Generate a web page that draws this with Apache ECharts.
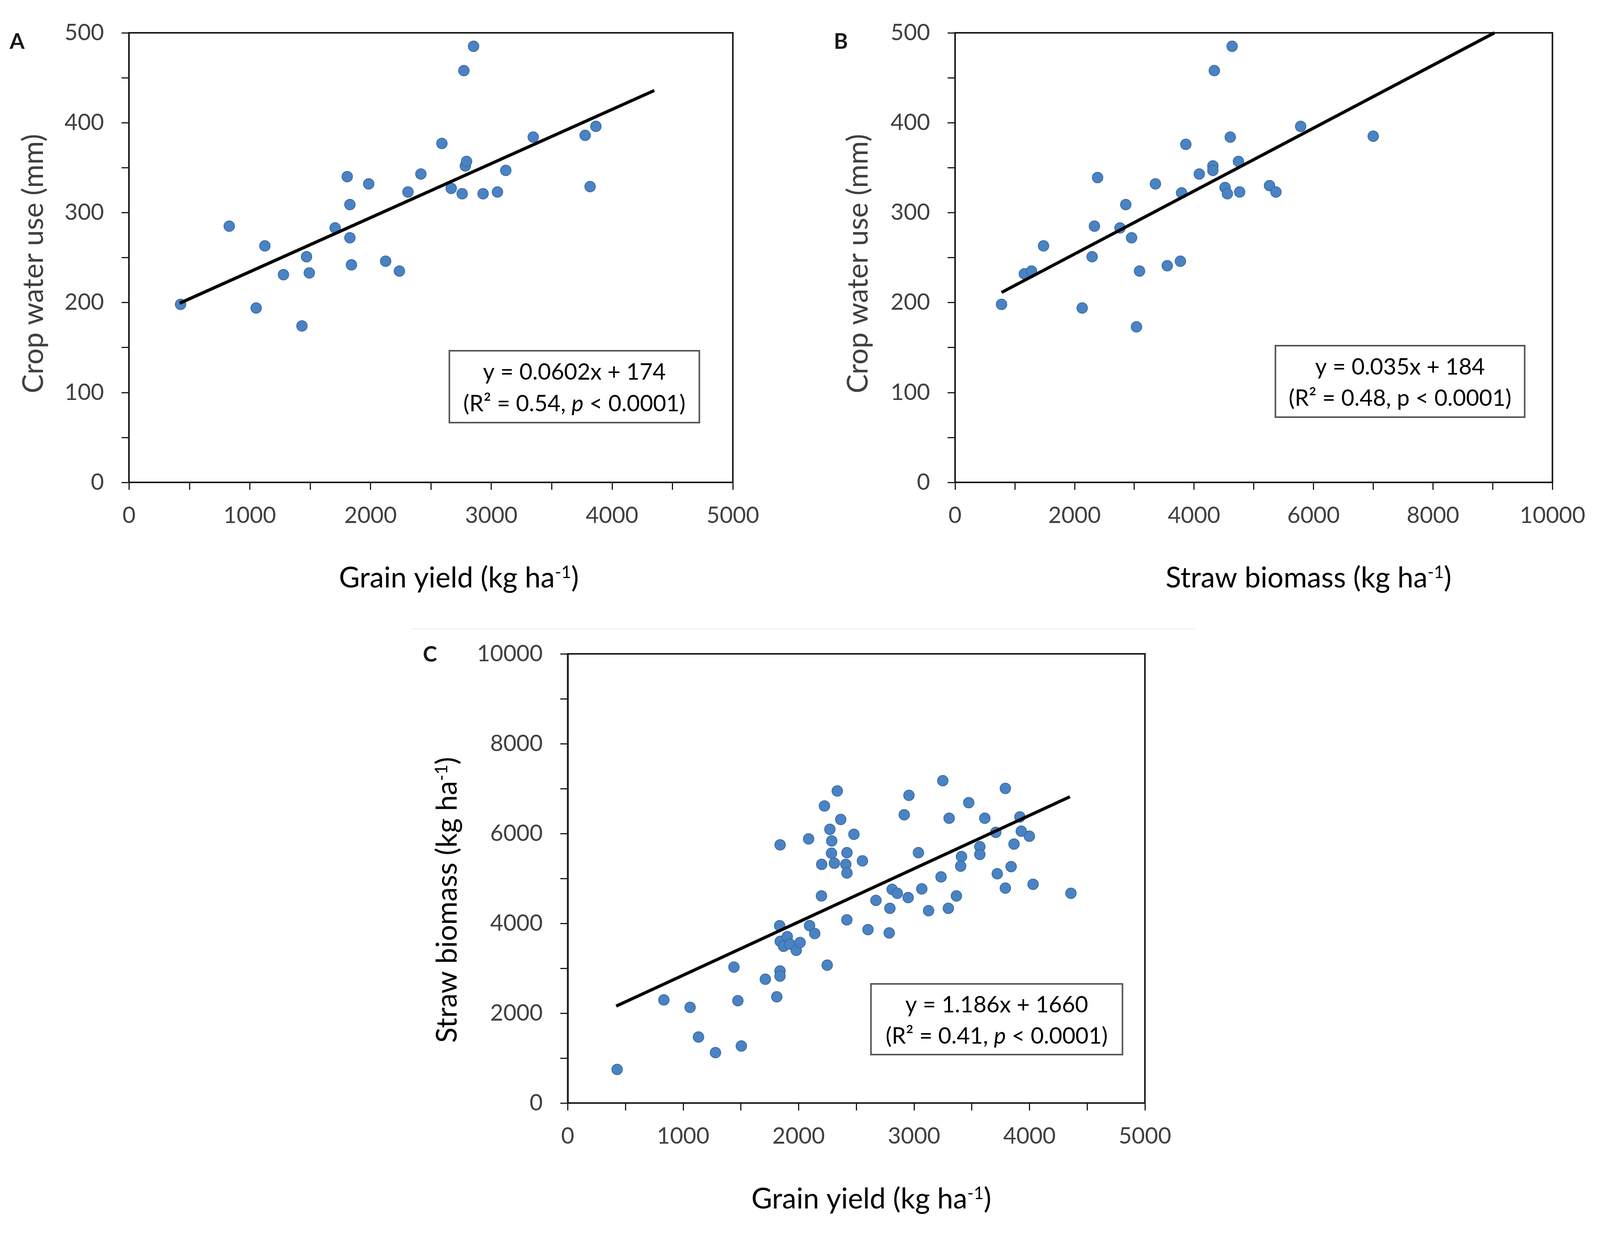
<!DOCTYPE html>
<html>
<head>
<meta charset="utf-8">
<script src="https://cdn.jsdelivr.net/npm/echarts@6/dist/echarts.min.js"></script>
<style>
  html, body { margin: 0; padding: 0; background: #fff; overflow: hidden; }
  #main { width: 100vw; height: 100vh; }
</style>
</head>
<body>
<div id="main"></div>
<script>
// panel A: grain yield vs crop water use
var grainA = [427, 830, 1125, 1053, 1279, 1470, 1493, 1432, 1707, 1807, 1829, 1829, 1842, 1985, 2125, 2239,
  2310, 2417, 2591, 2668, 2759, 2773, 2785, 2795, 2853, 2932, 3051, 3120, 3347, 3777, 3866, 3818];
var waterA = [198, 285, 263, 194, 231, 251, 233, 174, 283, 340, 309, 272, 242, 332, 246, 235,
  323, 343, 377, 327, 321, 458, 352, 357, 485, 321, 323, 347, 384, 386, 396, 329];
var fitA = [0.0602, 174];
var fitRangeA = [420, 4350];

// panel B: straw biomass vs crop water use
var strawB = [778, 1160, 1280, 1481, 2128, 2294, 2333, 2386, 2761, 2858, 2955, 3088, 3037, 3354, 3552, 3772,
  3792, 3863, 4088, 4316, 4316, 4340, 4520, 4559, 4607, 4638, 4744, 4764, 5264, 5371, 5785, 7000];
var waterB = [198, 232, 235, 263, 194, 251, 285, 339, 283, 309, 272, 235, 173, 332, 241, 246,
  322, 376, 343, 352, 347, 458, 328, 321, 384, 485, 357, 323, 330, 323, 396, 385];
var fitB = [0.035, 184];
var fitRangeB = [778, 9030];

// panel C: grain yield vs straw biomass
var grainC = [428, 833, 1060, 1133, 1280, 1504, 1440, 1474, 1712, 1811, 1839, 1839, 1840, 1836, 1841, 1870,
  1902, 1924, 1980, 2013, 2095, 2140, 2087, 2198, 2224, 2248, 2335, 2365, 2271, 2287, 2285, 2200,
  2310, 2409, 2419, 2419, 2479, 2553, 2418, 2601, 2670, 2956, 3249, 2915, 3474, 3791, 3304, 3613,
  3917, 3929, 3999, 3866, 3708, 3570, 3570, 3038, 3411, 3404, 3234, 3067, 3367, 3297, 3126, 2791,
  2810, 2855, 2949, 2785, 3721, 3841, 3791, 4031, 4359];
var strawC = [748, 2296, 2130, 1470, 1122, 1270, 3026, 2278, 2757, 2365, 2940, 2826, 5748, 3948, 3600, 3490,
  3704, 3540, 3400, 3574, 3950, 3774, 5880, 4611, 6612, 3069, 6947, 6313, 6093, 5835, 5560, 5313,
  5339, 5313, 5122, 5574, 5983, 5391, 4078, 3861, 4510, 6849, 7177, 6417, 6687, 7004, 6341, 6341,
  6370, 6052, 5939, 5765, 6026, 5707, 5534, 5574, 5487, 5274, 5035, 4767, 4611, 4335, 4283, 4335,
  4756, 4669, 4574, 3787, 5104, 5263, 4784, 4870, 4669];
var fitC = [1.186, 1660];
var fitRangeC = [420, 4350];

var FONT = 'Lato, "Open Sans", sans-serif';
var TXT = '#404040';

var dom = document.getElementById('main');
// layout is written for a 4205 x 3167 page and scaled to the real viewport
var SX = dom.clientWidth / 4205, SY = dom.clientHeight / 3167, S = Math.min(SX, SY);
function X(v) { return v * SX; }
function Y(v) { return v * SY; }
function F(v) { return Math.round(v * S); }

function pairs(xs, ys) {
  return xs.map(function (x, i) { return [x, ys[i]]; });
}
function fitLine(fit, range) {
  return range.map(function (x) { return [x, fit[0] * x + fit[1]]; });
}
function plainNum(v) { return String(v); }

var AX = '#1a1a1a';
function makeX(idx, max, interval) {
  return {
    type: 'value', gridIndex: idx, min: 0, max: max, interval: interval,
    axisLine: { show: true, lineStyle: { color: AX, width: F(4) } },
    axisTick: { show: true, inside: false, length: F(20), lineStyle: { color: AX, width: F(3) } },
    minorTick: { show: true, splitNumber: 2, length: F(20), lineStyle: { color: AX, width: F(3) } },
    axisLabel: { margin: F(58), color: TXT, fontSize: F(60), fontFamily: FONT, formatter: plainNum },
    splitLine: { show: false }
  };
}
function makeY(idx, max, interval) {
  return {
    type: 'value', gridIndex: idx, min: 0, max: max, interval: interval,
    axisLine: { show: true, lineStyle: { color: AX, width: F(4) } },
    axisTick: { show: true, inside: false, length: F(20), lineStyle: { color: AX, width: F(3) } },
    minorTick: { show: true, splitNumber: 2, length: F(20), lineStyle: { color: AX, width: F(3) } },
    axisLabel: { margin: F(66), color: TXT, fontSize: F(60), fontFamily: FONT, formatter: plainNum },
    splitLine: { show: false }
  };
}
function dots(idx, data) {
  return {
    type: 'scatter', xAxisIndex: idx, yAxisIndex: idx, data: data,
    symbol: 'circle', symbolSize: F(28),
    itemStyle: { color: '#4a83c4', borderColor: '#3b6aa3', borderWidth: F(2), opacity: 1 },
    z: 3
  };
}
function trend(idx, data) {
  return {
    type: 'line', xAxisIndex: idx, yAxisIndex: idx, data: data,
    symbol: 'none', lineStyle: { color: '#000', width: F(8) }, z: 4, silent: true
  };
}
function grid(l, t, w, h) {
  return { left: X(l), top: Y(t), width: X(w), height: Y(h), show: true,
    borderColor: AX, borderWidth: F(4), backgroundColor: 'transparent' };
}

var richAxis = {
  n: { fontSize: F(75), fontFamily: FONT, color: TXT },
  s: { fontSize: F(45), fontFamily: FONT, color: TXT, verticalAlign: 'top' }
};
var richBox = {
  n: { fontSize: F(60), fontFamily: FONT, color: TXT },
  i: { fontSize: F(60), fontFamily: FONT, color: TXT, fontStyle: 'italic' }
};

function axisTitle(x, y, pre, rot) {
  return {
    type: 'text', x: X(x), y: Y(y), rotation: rot || 0,
    style: {
      text: '{n|' + pre + ' (kg ha}{s|-1}{n|)}',
      rich: richAxis, textAlign: 'center', textVerticalAlign: 'middle'
    }
  };
}
function plainTitle(x, y, text, rot) {
  return {
    type: 'text', x: X(x), y: Y(y), rotation: rot || 0,
    style: { text: text, font: F(75) + 'px ' + FONT, fill: TXT, textAlign: 'center', textVerticalAlign: 'middle' }
  };
}
function panelLetter(x, y, t) {
  return {
    type: 'text', x: X(x), y: Y(y),
    style: { text: t, font: 'bold ' + F(56) + 'px ' + FONT, fill: '#1a1a1a', textAlign: 'center', textVerticalAlign: 'middle' }
  };
}
function statBox(x0, y0, x1, y1, line1, line2) {
  return [
    { type: 'rect', shape: { x: X(x0), y: Y(y0), width: X(x1 - x0), height: Y(y1 - y0) },
      style: { fill: '#fff', stroke: '#555', lineWidth: F(4) }, z: 10 },
    { type: 'text', x: X((x0 + x1) / 2), y: Y(y0 + (y1 - y0) * 0.3), z: 11,
      style: { text: line1, rich: richBox, textAlign: 'center', textVerticalAlign: 'middle' } },
    { type: 'text', x: X((x0 + x1) / 2), y: Y(y0 + (y1 - y0) * 0.74), z: 11,
      style: { text: line2, rich: richBox, textAlign: 'center', textVerticalAlign: 'middle' } }
  ];
}

var chart = echarts.init(dom, null, { renderer: 'canvas' });

var option = {
  backgroundColor: '#fff',
  animation: false,
  grid: [
    grid(339, 84, 1587, 1151),
    grid(2510, 84, 1570, 1151),
    grid(1492, 1674, 1517, 1150)
  ],
  xAxis: [makeX(0, 5000, 1000), makeX(1, 10000, 2000), makeX(2, 5000, 1000)],
  yAxis: [makeY(0, 500, 100), makeY(1, 500, 100), makeY(2, 10000, 2000)],
  series: [
    dots(0, pairs(grainA, waterA)), trend(0, fitLine(fitA, fitRangeA)),
    dots(1, pairs(strawB, waterB)), trend(1, fitLine(fitB, fitRangeB)),
    dots(2, pairs(grainC, strawC)), trend(2, fitLine(fitC, fitRangeC))
  ],
  graphic: [
    { type: 'line', shape: { x1: X(1080), y1: Y(1610), x2: X(3140), y2: Y(1610) }, style: { stroke: '#f2f2f2', lineWidth: F(3) } },
    panelLetter(45, 107, 'A'),
    panelLetter(2210, 107, 'B'),
    panelLetter(1130, 1676, 'C'),
    plainTitle(89, 675, 'Crop water use (mm)', Math.PI / 2),
    plainTitle(2256, 675, 'Crop water use (mm)', Math.PI / 2),
    axisTitle(1176, 2304, 'Straw biomass', Math.PI / 2),
    axisTitle(1206, 1480, 'Grain yield'),
    axisTitle(3439, 1480, 'Straw biomass'),
    axisTitle(2290, 3070, 'Grain yield')
  ].concat(
    statBox(1181, 898, 1838, 1082, '{n|y = 0.0602x + 174}', '{n|(R² = 0.54, }{i|p}{n| < 0.0001)}'),
    statBox(3352, 885, 4007, 1068, '{n|y = 0.035x + 184}', '{n|(R² = 0.48, p < 0.0001)}'),
    statBox(2289, 2519, 2950, 2700, '{n|y = 1.186x + 1660}', '{n|(R² = 0.41, }{i|p}{n| < 0.0001)}')
  )
};

chart.setOption(option);
</script>
</body>
</html>
